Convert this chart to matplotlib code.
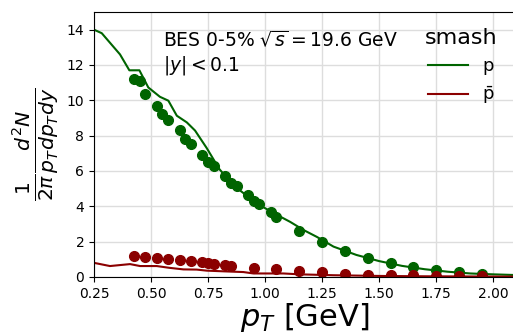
#! /usr/bin/env python

import matplotlib
matplotlib.use('Agg')
import matplotlib.pyplot as plt

# BES data points (proton)
pt_p = [0.425, 0.45, 0.475, 0.525, 0.55, 0.575, 0.625, 0.65, 0.675, 0.725, 0.75, 0.775,
        0.825, 0.85, 0.875, 0.925, 0.95, 0.975, 1.025, 1.05, 1.15, 1.25, 1.35, 1.45,
        1.55, 1.65, 1.75, 1.85, 1.95]
y_p = [11.2, 11.07, 10.37, 9.66, 9.23, 8.9, 8.32, 7.82, 7.54, 6.9, 6.5, 6.31,
       5.71, 5.34, 5.15, 4.62, 4.3, 4.15, 3.66, 3.38, 2.61, 1.97, 1.47, 1.09,
       0.77, 0.55, 0.39, 0.28, 0.19]

# BES data points (antiproton)
pt_pbar = [0.425, 0.475, 0.525, 0.575, 0.625, 0.675, 0.725, 0.75, 0.775, 0.825, 0.85,
           0.95, 1.05, 1.15, 1.25, 1.35, 1.45, 1.55, 1.65, 1.75, 1.85, 1.95]
y_pbar = [1.17, 1.13, 1.05, 1.01, 0.96, 0.9, 0.83, 0.77, 0.75, 0.69, 0.64,
          0.53, 0.43, 0.34, 0.28, 0.19, 0.14, 0.12, 0.1, 0.08, 0.06, 0.05]

# smash curves
pt_sm_p = [0.25, 0.284, 0.324, 0.364, 0.405, 0.449, 0.488, 0.539, 0.576, 0.613, 0.657,
           0.693, 0.744, 0.8, 0.861, 0.92, 0.978, 1.04, 1.11, 1.17, 1.227, 1.3, 1.4,
           1.5, 1.6, 1.7, 1.8, 1.9, 2.0, 2.1]
y_sm_p = [14.0, 13.8, 13.2, 12.6, 11.7, 11.7, 10.73, 10.2, 9.98, 9.13, 8.75,
          8.29, 7.3, 6.1, 5.19, 4.6, 4.06, 3.6, 3.12, 2.65, 2.27, 1.72, 1.25,
          0.9, 0.63, 0.44, 0.3, 0.2, 0.15, 0.11]

pt_sm_pbar = [0.25, 0.262, 0.32, 0.408, 0.452, 0.525, 0.58, 0.642, 0.7, 0.744, 0.82,
              0.905, 0.949, 1.0, 1.08, 1.153, 1.3, 1.5, 1.7, 1.9, 2.1]
y_sm_pbar = [0.8, 0.77, 0.62, 0.73, 0.62, 0.62, 0.52, 0.43, 0.42, 0.36, 0.32,
             0.28, 0.2, 0.2, 0.2, 0.15, 0.1, 0.06, 0.04, 0.03, 0.02]

fig = plt.figure(figsize=(5.13, 3.33), dpi=100)
ax = fig.add_axes([94 / 513, 56 / 333, 422 / 513, 265 / 333])

ax.plot(pt_sm_p, y_sm_p, color='darkgreen', lw=1.5, label='p')
ax.plot(pt_sm_pbar, y_sm_pbar, color='darkred', lw=1.5, label=r'$\bar{\mathrm{p}}$')
ax.plot(pt_p, y_p, 'o', color='darkgreen', ms=7)
ax.plot(pt_pbar, y_pbar, 'o', color='darkred', ms=7)

ax.set_xlim(0.25, 2.1)
ax.set_ylim(0, 15)
ax.set_xticks([0.25, 0.5, 0.75, 1.0, 1.25, 1.5, 1.75, 2.0])
ax.set_yticks([0, 2, 4, 6, 8, 10, 12, 14])
ax.grid(True, color='#dddddd', lw=1)

ax.set_xlabel(r'$p_T$ [GeV]', fontsize=22, labelpad=0)
ax.set_ylabel(r'$\frac{1}{2\pi}\frac{d^2N}{p_T dp_T dy}$', fontsize=21)

ax.text(0.163, 0.935, r'BES 0-5% $\sqrt{s} = 19.6$ GeV', transform=ax.transAxes,
        fontsize=13.5, va='top')
ax.text(0.163, 0.84, r'$|y| < 0.1$', transform=ax.transAxes, fontsize=13.5, va='top')

ax.legend(loc='upper left', bbox_to_anchor=(409 / 513, 1 - 12 / 333),
          bbox_transform=fig.transFigure, frameon=False, title='smash',
          title_fontsize=16, fontsize=13, handlelength=2.2)

fig.savefig('out.png', dpi=100)
